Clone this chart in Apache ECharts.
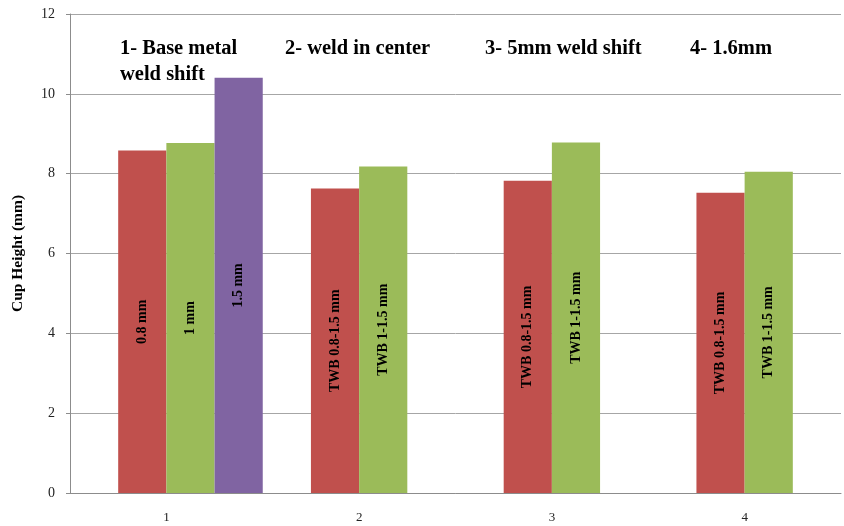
<!DOCTYPE html>
<html>
<head>
<meta charset="utf-8">
<script src="https://cdn.jsdelivr.net/npm/echarts@6/dist/echarts.min.js"></script>
<style>
  html, body { margin: 0; padding: 0; background: #fff; }
  #chart { width: 844px; height: 526px; }
</style>
</head>
<body>
<div id="chart"></div>
<script>
// Cup height per test case (mm)
const categories = ['1', '2', '3', '4'];
const thinValues = [8.58, 7.63, 7.82, 7.52];      // 0.8 mm / TWB 0.8-1.5 mm
const midValues = [8.77, 8.18, 8.78, 8.05];       // 1 mm / TWB 1-1.5 mm
const thickValues = [10.40, null, null, null];    // 1.5 mm
const thinLabels = ['0.8 mm', 'TWB 0.8-1.5 mm', 'TWB 0.8-1.5 mm', 'TWB 0.8-1.5 mm'];
const midLabels = ['1 mm', 'TWB 1-1.5 mm', 'TWB 1-1.5 mm', 'TWB 1-1.5 mm'];
const thickLabels = ['1.5 mm', '', '', ''];
const yTicks = { min: 0, max: 12, interval: 2 };
const caseTitles = ['1- Base metal\nweld shift', '2- weld in center', '3- 5mm weld shift', '4- 1.6mm'];

const serif = "'Liberation Serif', 'Times New Roman', serif";

function barLabel(texts) {
  return {
    show: true,
    position: 'inside',
    rotate: 90,
    fontFamily: serif,
    fontWeight: 'bold',
    fontSize: 14,
    color: '#000',
    formatter: p => texts[p.dataIndex]
  };
}

const titleLeft = [120, 285, 485, 690];

const chart = echarts.init(document.getElementById('chart'), null, { renderer: 'canvas' });
chart.setOption({
  animation: false,
  backgroundColor: '#fff',
  grid: { left: 70, right: 3, top: 14, bottom: 33, containLabel: false, outerBoundsMode: 'none' },
  xAxis: {
    type: 'category',
    data: categories,
    axisLine: { lineStyle: { color: '#8c8c8c', width: 1 } },
    axisTick: { show: false },
    axisLabel: { fontFamily: serif, fontSize: 13, color: '#222', margin: 18 }
  },
  yAxis: {
    type: 'value',
    min: yTicks.min,
    max: yTicks.max,
    interval: yTicks.interval,
    name: 'Cup Height (mm)',
    nameLocation: 'middle',
    nameGap: 44,
    nameTextStyle: { fontFamily: serif, fontWeight: 'bold', fontSize: 15.5, color: '#000' },
    axisLine: { show: true, lineStyle: { color: '#8c8c8c', width: 1 } },
    axisTick: { show: true, length: 4, lineStyle: { color: '#8c8c8c' } },
    axisLabel: { fontFamily: serif, fontSize: 14, color: '#222', margin: 15 },
    splitLine: { lineStyle: { color: '#a6a6a6', width: 1 } }
  },
  series: [
    {
      // unused slot kept so the groups sit where the workbook placed them
      type: 'bar', name: '', data: [null, null, null, null],
      barGap: '0%', barCategoryGap: '0%'
    },
    {
      type: 'bar', name: 'thin', data: thinValues,
      barGap: '0%', barCategoryGap: '0%',
      itemStyle: { color: '#C0504D' },
      label: barLabel(thinLabels)
    },
    {
      type: 'bar', name: 'mid', data: midValues,
      barGap: '0%', barCategoryGap: '0%',
      itemStyle: { color: '#9BBB59' },
      label: barLabel(midLabels)
    },
    {
      type: 'bar', name: 'thick', data: thickValues,
      barGap: '0%', barCategoryGap: '0%',
      itemStyle: { color: '#8064A2' },
      label: barLabel(thickLabels)
    }
  ],
  graphic: caseTitles.map((t, i) => ({
    type: 'text',
    left: titleLeft[i],
    top: 36,
    z: 10,
    style: {
      text: t,
      fontFamily: serif,
      fontWeight: 'bold',
      fontSize: 20.5,
      lineHeight: 26,
      fill: '#000'
    }
  }))
});
</script>
</body>
</html>
